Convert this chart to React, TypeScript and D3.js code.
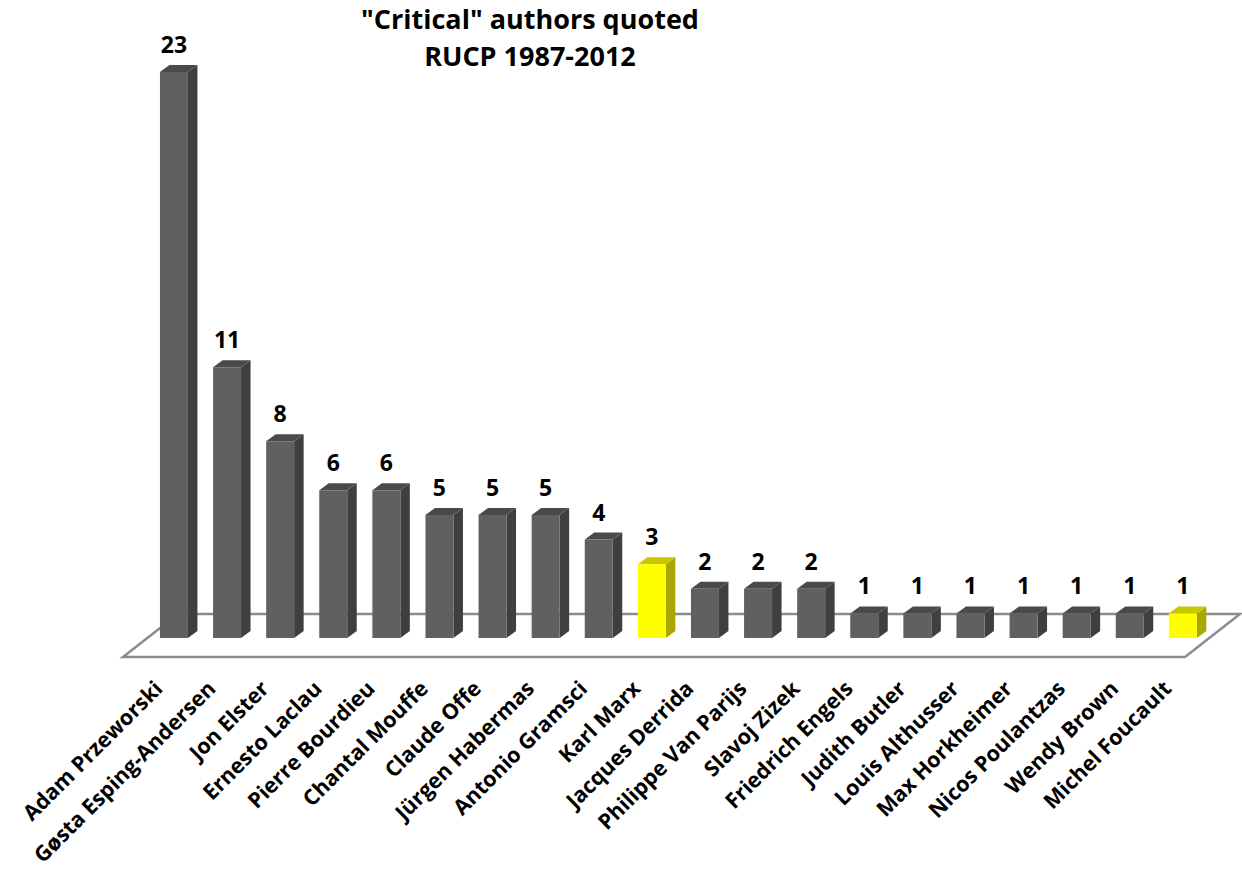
import React from "react";
import * as d3 from "d3";

const authors = [
  "Adam Przeworski",
  "Gøsta Esping-Andersen",
  "Jon Elster",
  "Ernesto Laclau",
  "Pierre Bourdieu",
  "Chantal Mouffe",
  "Claude Offe",
  "Jürgen Habermas",
  "Antonio Gramsci",
  "Karl Marx",
  "Jacques Derrida",
  "Philippe Van Parijs",
  "Slavoj Zizek",
  "Friedrich Engels",
  "Judith Butler",
  "Louis Althusser",
  "Max Horkheimer",
  "Nicos Poulantzas",
  "Wendy Brown",
  "Michel Foucault",
];

const quotes = [23, 11, 8, 6, 6, 5, 5, 5, 4, 3, 2, 2, 2, 1, 1, 1, 1, 1, 1, 1];

const highlighted = ["Karl Marx", "Michel Foucault"];

const titleLines = ['"Critical" authors quoted', "RUCP 1987-2012"];

const W = 1242;
const H = 871;
const FONT = "'Open Sans', Lato, sans-serif";

// 3D extrusion offsets of the bars
const DX = 9.5;
const DY = -7;

// floor parallelogram
const floorFrontY = 657;
const floorBackY = 614;
const floorFrontLeft = 123;
const floorFrontRight = 1185;
const floorSlopeDx = 55;

const palette = {
  gray: { front: "#606060", side: "#3f3f3f", top: "#4a4a4a" },
  yellow: { front: "#ffff00", side: "#a8a800", top: "#c8c800" },
};

export default function App() {
  const x = d3
    .scaleBand<string>()
    .domain(authors)
    .range([147.4, 1209.4])
    .paddingInner(0.473)
    .paddingOuter(0.2365);

  const baseY = 638;
  const y = d3.scaleLinear().domain([0, 23]).range([baseY, 72]);
  const bw = x.bandwidth();

  const floorPath = d3.path();
  floorPath.moveTo(floorFrontLeft, floorFrontY);
  floorPath.lineTo(floorFrontRight, floorFrontY);
  floorPath.lineTo(floorFrontRight + floorSlopeDx, floorBackY);
  floorPath.lineTo(floorFrontLeft + floorSlopeDx, floorBackY);
  floorPath.closePath();

  return (
    <svg width={W} height={H} style={{ display: "block", position: "absolute", left: 0, top: 0 }}>
      <rect width={W} height={H} fill="#ffffff" />
      <path d={floorPath.toString()} fill="none" stroke="#8c8c8c" strokeWidth={2.5} strokeLinejoin="miter" />

      {authors.map((name, i) => {
        const v = quotes[i];
        const x0 = x(name) as number;
        const x1 = x0 + bw;
        const yt = y(v);
        const c = highlighted.includes(name) ? palette.yellow : palette.gray;
        const front = `M${x0},${baseY}L${x0},${yt}L${x1},${yt}L${x1},${baseY}Z`;
        const side = `M${x1},${baseY}L${x1},${yt}L${x1 + DX},${yt + DY}L${x1 + DX},${baseY + DY}Z`;
        const top = `M${x0},${yt}L${x0 + DX},${yt + DY}L${x1 + DX},${yt + DY}L${x1},${yt}Z`;
        return (
          <g key={name}>
            <path d={side} fill={c.side} />
            <path d={top} fill={c.top} />
            <path d={front} fill={c.front} />
            <text
              x={x0 + bw / 2}
              y={yt - 19}
              textAnchor="middle"
              fontFamily={FONT}
              fontWeight={700}
              fontSize={23}
              fill="#000"
            >
              {v}
            </text>
          </g>
        );
      })}

      {authors.map((name) => {
        const cx = (x(name) as number) + bw / 2 - 10;
        const cy = 690;
        return (
          <text
            key={`lbl-${name}`}
            transform={`translate(${cx},${cy}) rotate(-45)`}
            textAnchor="end"
            fontFamily={FONT}
            fontWeight={700}
            fontSize={21.5}
            fill="#000"
          >
            {name}
          </text>
        );
      })}

      {titleLines.map((t, i) => (
        <text
          key={t}
          x={530}
          y={29 + i * 37}
          textAnchor="middle"
          fontFamily={FONT}
          fontWeight={700}
          fontSize={27}
          fill="#000"
        >
          {t}
        </text>
      ))}
    </svg>
  );
}
